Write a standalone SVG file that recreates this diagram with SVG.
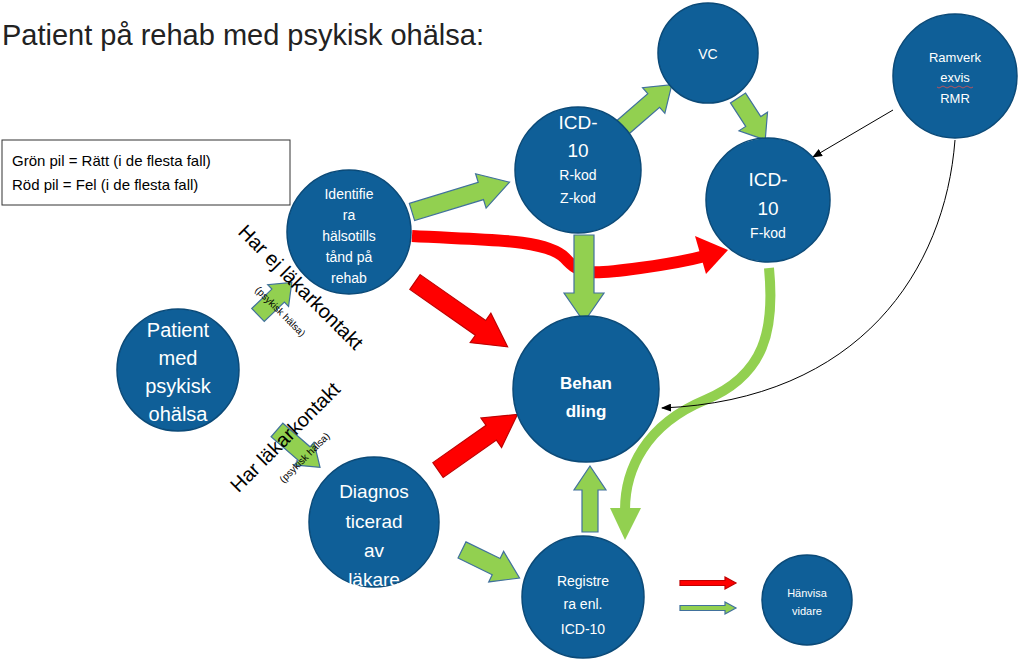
<svg xmlns="http://www.w3.org/2000/svg" width="1024" height="672" viewBox="0 0 1024 672">
<style>
text{font-family:"Liberation Sans",Arial,sans-serif}
.n{fill:#0f5f98;stroke:#0b4a78;stroke-width:1.5}
.w{fill:#fff;text-anchor:middle}
.g{fill:#92d050;stroke:#41719c;stroke-width:1.2}
.r{fill:#ff0000;stroke:#c00000;stroke-width:1.2}
.k{font-size:20px;fill:#000;text-anchor:middle}
.s{font-size:10px;fill:#000;text-anchor:middle}
</style>
<defs>
<marker id="ah" markerWidth="10" markerHeight="8" refX="9" refY="4" orient="auto" markerUnits="userSpaceOnUse"><path d="M0,0L10,4L0,8z" fill="#000"/></marker>
</defs>
<rect width="1024" height="672" fill="#fff"/>
<text x="2" y="45" font-size="29" fill="#222">Patient på rehab med psykisk ohälsa:</text>
<g id="legend"><rect x="2" y="140" width="288" height="65" fill="#fff" stroke="#333" stroke-width="1"/>
<text x="12" y="166" font-size="15">Grön pil = Rätt (i de flesta fall)</text>
<text x="12" y="190" font-size="15">Röd pil = Fel (i de flesta fall)</text></g>
<g id="connectors">
<path d="M412,236 C480,240 545,238 565,258 C580,275 590,275 640,268 C670,264 690,260 705,256" fill="none" stroke="#ff0000" stroke-width="12"/>
<polygon points="695,236 728,250 706,274" fill="#ff0000"/>
<path d="M769,268 C775,330 765,375 705,400 C645,425 625,470 625,510" fill="none" stroke="#92d050" stroke-width="10"/>
<polygon points="610,508 641,508 625,540" fill="#92d050"/>
<line x1="893" y1="110" x2="813" y2="157" stroke="#000" stroke-width="1" marker-end="url(#ah)"/>
<path d="M955,140 C945,270 860,400 662,408" fill="none" stroke="#000" stroke-width="1" marker-end="url(#ah)"/>
<polygon class="g" transform="translate(412,212) rotate(-17)" points="0,-9 72,-9 72,-18 102,0 72,18 72,9 0,9"/>
<polygon class="g" transform="translate(622,128) rotate(-41)" points="0,-9 42,-9 42,-17 66,0 42,17 42,9 0,9"/>
<polygon class="g" transform="translate(738,98) rotate(57)" points="0,-9 28,-9 28,-17 50,0 28,17 28,9 0,9"/>
<polygon class="g" transform="translate(584,235) rotate(90)" points="0,-10 58,-10 58,-20 87,0 58,20 58,10 0,10"/>
<polygon class="r" transform="translate(415,282) rotate(35)" points="0,-9 80,-9 80,-18 113,0 80,18 80,9 0,9"/>
<polygon class="r" transform="translate(438,470) rotate(-35)" points="0,-9 65,-9 65,-18 97,0 65,18 65,9 0,9"/>
<polygon class="g" transform="translate(462,550) rotate(26)" points="0,-9 38,-9 38,-17 64,0 38,17 38,9 0,9"/>
<polygon class="g" transform="translate(590,532) rotate(-90)" points="0,-8 42,-8 42,-16 66,0 42,16 42,8 0,8"/>
<polygon class="g" transform="translate(258,315) rotate(-44)" points="0,-9 28,-9 28,-15 47,0 28,15 28,9 0,9"/>
<polygon class="g" transform="translate(277,430) rotate(41)" points="0,-9 36,-9 36,-15 57,0 36,15 36,9 0,9"/>
<polygon class="r" transform="translate(680,583)" points="0,-2.5 45,-2.5 45,-6 56,0 45,6 45,2.5 0,2.5"/>
<polygon class="g" transform="translate(680,608)" points="0,-2.5 45,-2.5 45,-6 56,0 45,6 45,2.5 0,2.5"/>
</g>
<g id="labels">
<text class="k" transform="translate(296,292) rotate(45)">Har ej läkarkontakt</text>
<text class="s" transform="translate(278,314) rotate(45)">(psykisk hälsa)</text>
<text class="k" transform="translate(290,442) rotate(-45)">Har läkarkontakt</text>
<text class="s" transform="translate(307,460) rotate(-45)">(psykisk hälsa)</text>
</g>
<g id="patient"><circle class="n" cx="178" cy="370" r="61"/>
<text class="w" font-size="20"><tspan x="178" y="337">Patient</tspan><tspan x="178" y="365">med</tspan><tspan x="178" y="393">psykisk</tspan><tspan x="178" y="421">ohälsa</tspan></text></g>
<g id="identifiera"><circle class="n" cx="349" cy="232" r="62"/>
<text class="w" font-size="14"><tspan x="349" y="199">Identifie</tspan><tspan x="349" y="220">ra</tspan><tspan x="349" y="241">hälsotills</tspan><tspan x="349" y="262">tånd på</tspan><tspan x="349" y="283">rehab</tspan></text></g>
<g id="icdr"><circle class="n" cx="578" cy="170" r="63"/>
<text class="w" font-size="19"><tspan x="578" y="129">ICD-</tspan><tspan x="578" y="157">10</tspan></text>
<text class="w" font-size="14"><tspan x="578" y="180">R-kod</tspan><tspan x="578" y="203">Z-kod</tspan></text></g>
<g id="vc"><circle class="n" cx="708" cy="53" r="50"/><text class="w" font-size="14" x="708" y="59">VC</text></g>
<g id="ramverk"><circle class="n" cx="955" cy="76" r="62"/>
<text class="w" font-size="13"><tspan x="955" y="62">Ramverk</tspan><tspan x="955" y="82">exvis</tspan><tspan x="955" y="103">RMR</tspan></text>
<path d="M937,87 q2,2 4,0 q2,-2 4,0 q2,2 4,0 q2,-2 4,0 q2,2 4,0 q2,-2 4,0 q2,2 4,0 q2,-2 4,0 q2,2 4,0" fill="none" stroke="#e05050" stroke-width="0.8"/></g>
<g id="icdf"><circle class="n" cx="768" cy="200" r="62"/>
<text class="w" font-size="19"><tspan x="768" y="186">ICD-</tspan><tspan x="768" y="215">10</tspan></text>
<text class="w" font-size="14"><tspan x="768" y="238">F-kod</tspan></text></g>
<g id="behandling"><circle class="n" cx="586" cy="389" r="73"/>
<text class="w" font-size="17" font-weight="bold"><tspan x="586" y="389">Behan</tspan><tspan x="586" y="417">dling</tspan></text></g>
<g id="diagnos"><circle class="n" cx="374" cy="522" r="65"/>
<text class="w" font-size="19"><tspan x="374" y="498">Diagnos</tspan><tspan x="374" y="528">ticerad</tspan><tspan x="374" y="557">av</tspan><tspan x="374" y="586">läkare</tspan></text></g>
<g id="registrera"><circle class="n" cx="583" cy="597" r="61"/>
<text class="w" font-size="14"><tspan x="583" y="586">Registre</tspan><tspan x="583" y="609">ra enl.</tspan><tspan x="583" y="634">ICD-10</tspan></text></g>
<g id="hanvisa"><circle class="n" cx="807" cy="600" r="45"/>
<text class="w" font-size="11"><tspan x="807" y="597">Hänvisa</tspan><tspan x="807" y="615">vidare</tspan></text></g>
</svg>
